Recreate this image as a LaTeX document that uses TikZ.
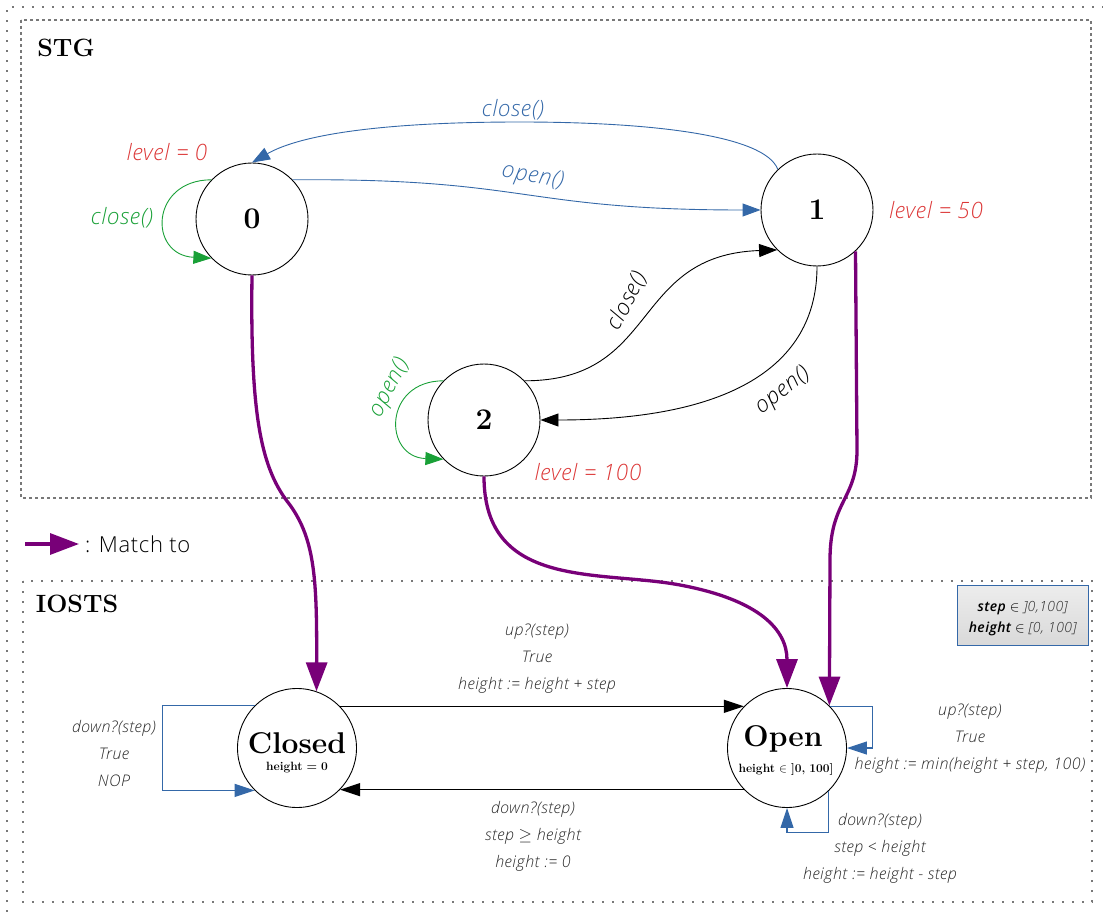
\documentclass[tikz,border=0pt]{standalone}
\usepackage{fontspec}
\usetikzlibrary{arrows.meta}
\newfontfamily\labfont[LetterSpace=3.0]{Open Sans Light}
\definecolor{eblue}{RGB}{52,104,168}
\definecolor{egreen}{RGB}{25,160,55}
\definecolor{ered}{RGB}{220,55,55}
\definecolor{epurple}{RGB}{120,0,120}
\definecolor{etext}{RGB}{40,40,40}
\definecolor{frame}{RGB}{120,120,120}
\begin{document}
\begin{tikzpicture}[x=1pt,y=-1pt,
  state/.style={circle, draw, line width=0.9pt, minimum size=112pt, inner sep=0pt,
    font=\fontsize{30}{34}\selectfont\bfseries},
  bigstate/.style={circle, draw, line width=0.9pt, minimum size=119pt, inner sep=0pt},
  stname/.style={font=\fontsize{30}{34}\selectfont\bfseries, inner sep=0pt},
  stsub/.style={font=\fontsize{12}{13}\selectfont\bfseries, inner sep=0pt},
  lbl/.style={font=\labfont\itshape\fontsize{22.5}{26}\selectfont, inner sep=0pt},
  ilbl/.style={font=\labfont\itshape\fontsize{16}{27}\selectfont, text=etext, align=center, inner sep=0pt},
  title/.style={font=\fontsize{25}{30}\selectfont\bfseries, inner sep=0pt},
  stgarrow/.style={-{Triangle[length=18pt,width=13pt]}, line width=0.9pt},
  ioarrow/.style={-{Triangle[length=20pt,width=13pt]}, line width=1.1pt},
  matcharrow/.style={-{Triangle[length=29pt,width=21pt]}, line width=3.3pt, color=epurple},
  dotframe/.style={draw=frame, line width=1.6pt, dash pattern=on 1.6pt off 8.4pt},
  dashframe/.style={draw=frame, line width=1.2pt, dash pattern=on 3pt off 3pt}
]
\useasboundingbox (0,0) rectangle (1103,912);

% frames
\draw[dotframe] (7,912) -- (7,7) -- (1103,7);
\draw[dashframe] (21,20) rectangle (1091,498);
\draw[dotframe] (23,581) rectangle (1092,902);
\node[title] (stgT) at (66,48) {STG};
\node[title] (iostsT) at (77,604) {IOSTS};

% STG states
\node[state] (n0) at (252,219) {0};
\node[state] (n1) at (817,210) {1};
\node[state] (n2) at (484,420) {2};

\node[lbl, text=ered] (l0) at (167,152) {level = 0};
\node[lbl, text=ered] (l1) at (936,210) {level = 50};
\node[lbl, text=ered] (l2) at (588,472) {level = 100};

% STG edges
\draw[stgarrow, eblue] (n1.134) .. controls (765,135) and (650,122) .. (520,122)
   .. controls (380,122) and (300,135) .. (n0.north);
\node[lbl, text=eblue] (lc1) at (513,110) {close()};

\draw[stgarrow, eblue] (n0.44) .. controls (530,178) and (520,210) .. (n1.west);
\node[lbl, text=eblue, rotate=-10] (lo1) at (533,177) {open()};

\draw[stgarrow, egreen] (n0.136) .. controls (150,180) and (148,255) .. (n0.224);
\node[lbl, text=egreen] (lc0) at (122,218) {close()};

\draw[stgarrow] (n2.44) .. controls (660,381) and (630,255) .. (n1.225);
\node[lbl, rotate=62] (lc2) at (627,301) {close()};

\draw[stgarrow] (n1.south) .. controls (817,360) and (740,420) .. (n2.east);
\node[lbl, rotate=38] (lo2) at (783,391) {open()};

\draw[stgarrow, egreen] (n2.136) .. controls (383,381) and (383,457) .. (n2.224);
\node[lbl, text=egreen, rotate=62] (lo3) at (390,388) {open()};

% IOSTS states
\node[bigstate] (C) at (297,748) {};
\node[stname] (Ct) at (297,743) {Closed};
\node[stsub] (Cs) at (297,768) {height\,\,=\,\,0};
\node[bigstate] (O) at (787,748) {};
\node[stname] (Ot) at (783,739) {Open};
\node[stsub] (Os) at (786,769) {height\,\,$\in$\,\,]0,\,\,100]};

% IOSTS edges
\draw[ioarrow] (C.44) -- (O.136);
\node[ilbl] (e1) at (537,659) {up?(step)\\True\\height := height + step};
\draw[ioarrow] (O.224) -- (C.316);
\node[ilbl] (e2) at (533,836) {down?(step)\\step $\geq$ height\\height := 0};

\draw[ioarrow, eblue] (C.135) -- ++(-92,0) |- (C.225);
\node[ilbl] (e3) at (114,753) {down?(step)\\True\\NOP};

\draw[ioarrow, eblue] (O.44) -- ++(42,0) |- (O.east);
\node[ilbl] (e4) at (970,739) {up?(step)\\True\\height := min(height + step, 100)};

\draw[ioarrow, eblue] (O.314) -- ++(0,41) -| (O.south);
\node[ilbl] (e5) at (880,848) {down?(step)\\step < height\\height := height - step};

% info box
\node[draw=eblue, line width=1pt, top color=white!93!black, bottom color=white!85!black,
  minimum width=131pt, minimum height=60pt, inner sep=0pt] (info) at (1022.5,615) {};
\node[font=\labfont\itshape\fontsize{14}{21}\selectfont, text=etext, align=center, inner sep=0pt] (infoT) at (1022.5,619)
  {\textcolor{black}{\textbf{step} $\in$} ]0,100]\\\textcolor{black}{\textbf{height} $\in$} [0, 100]};

% match arrows
\draw[matcharrow] (n0.south) .. controls (250,420) and (262,470) .. (290,505)
   .. controls (315,540) and (317,580) .. (C.71);
\draw[matcharrow] (n2.south) .. controls (484,590) and (600,570) .. (680,585)
   .. controls (760,600) and (787,630) .. (O.north);
\draw[matcharrow] (n1.313) -- (857,450) .. controls (857,500) and (830,500) .. (830,560) -- (O.45);

% legend
\coordinate (lgA) at (25,544);
\coordinate (lgB) at (79,544);
\draw[matcharrow] (lgA) -- (lgB);
\node[font=\labfont\fontsize{22}{26}\selectfont, text=black, anchor=west, inner sep=0pt] (lgT) at (85,544) {: Match to};
\end{tikzpicture}
\end{document}
